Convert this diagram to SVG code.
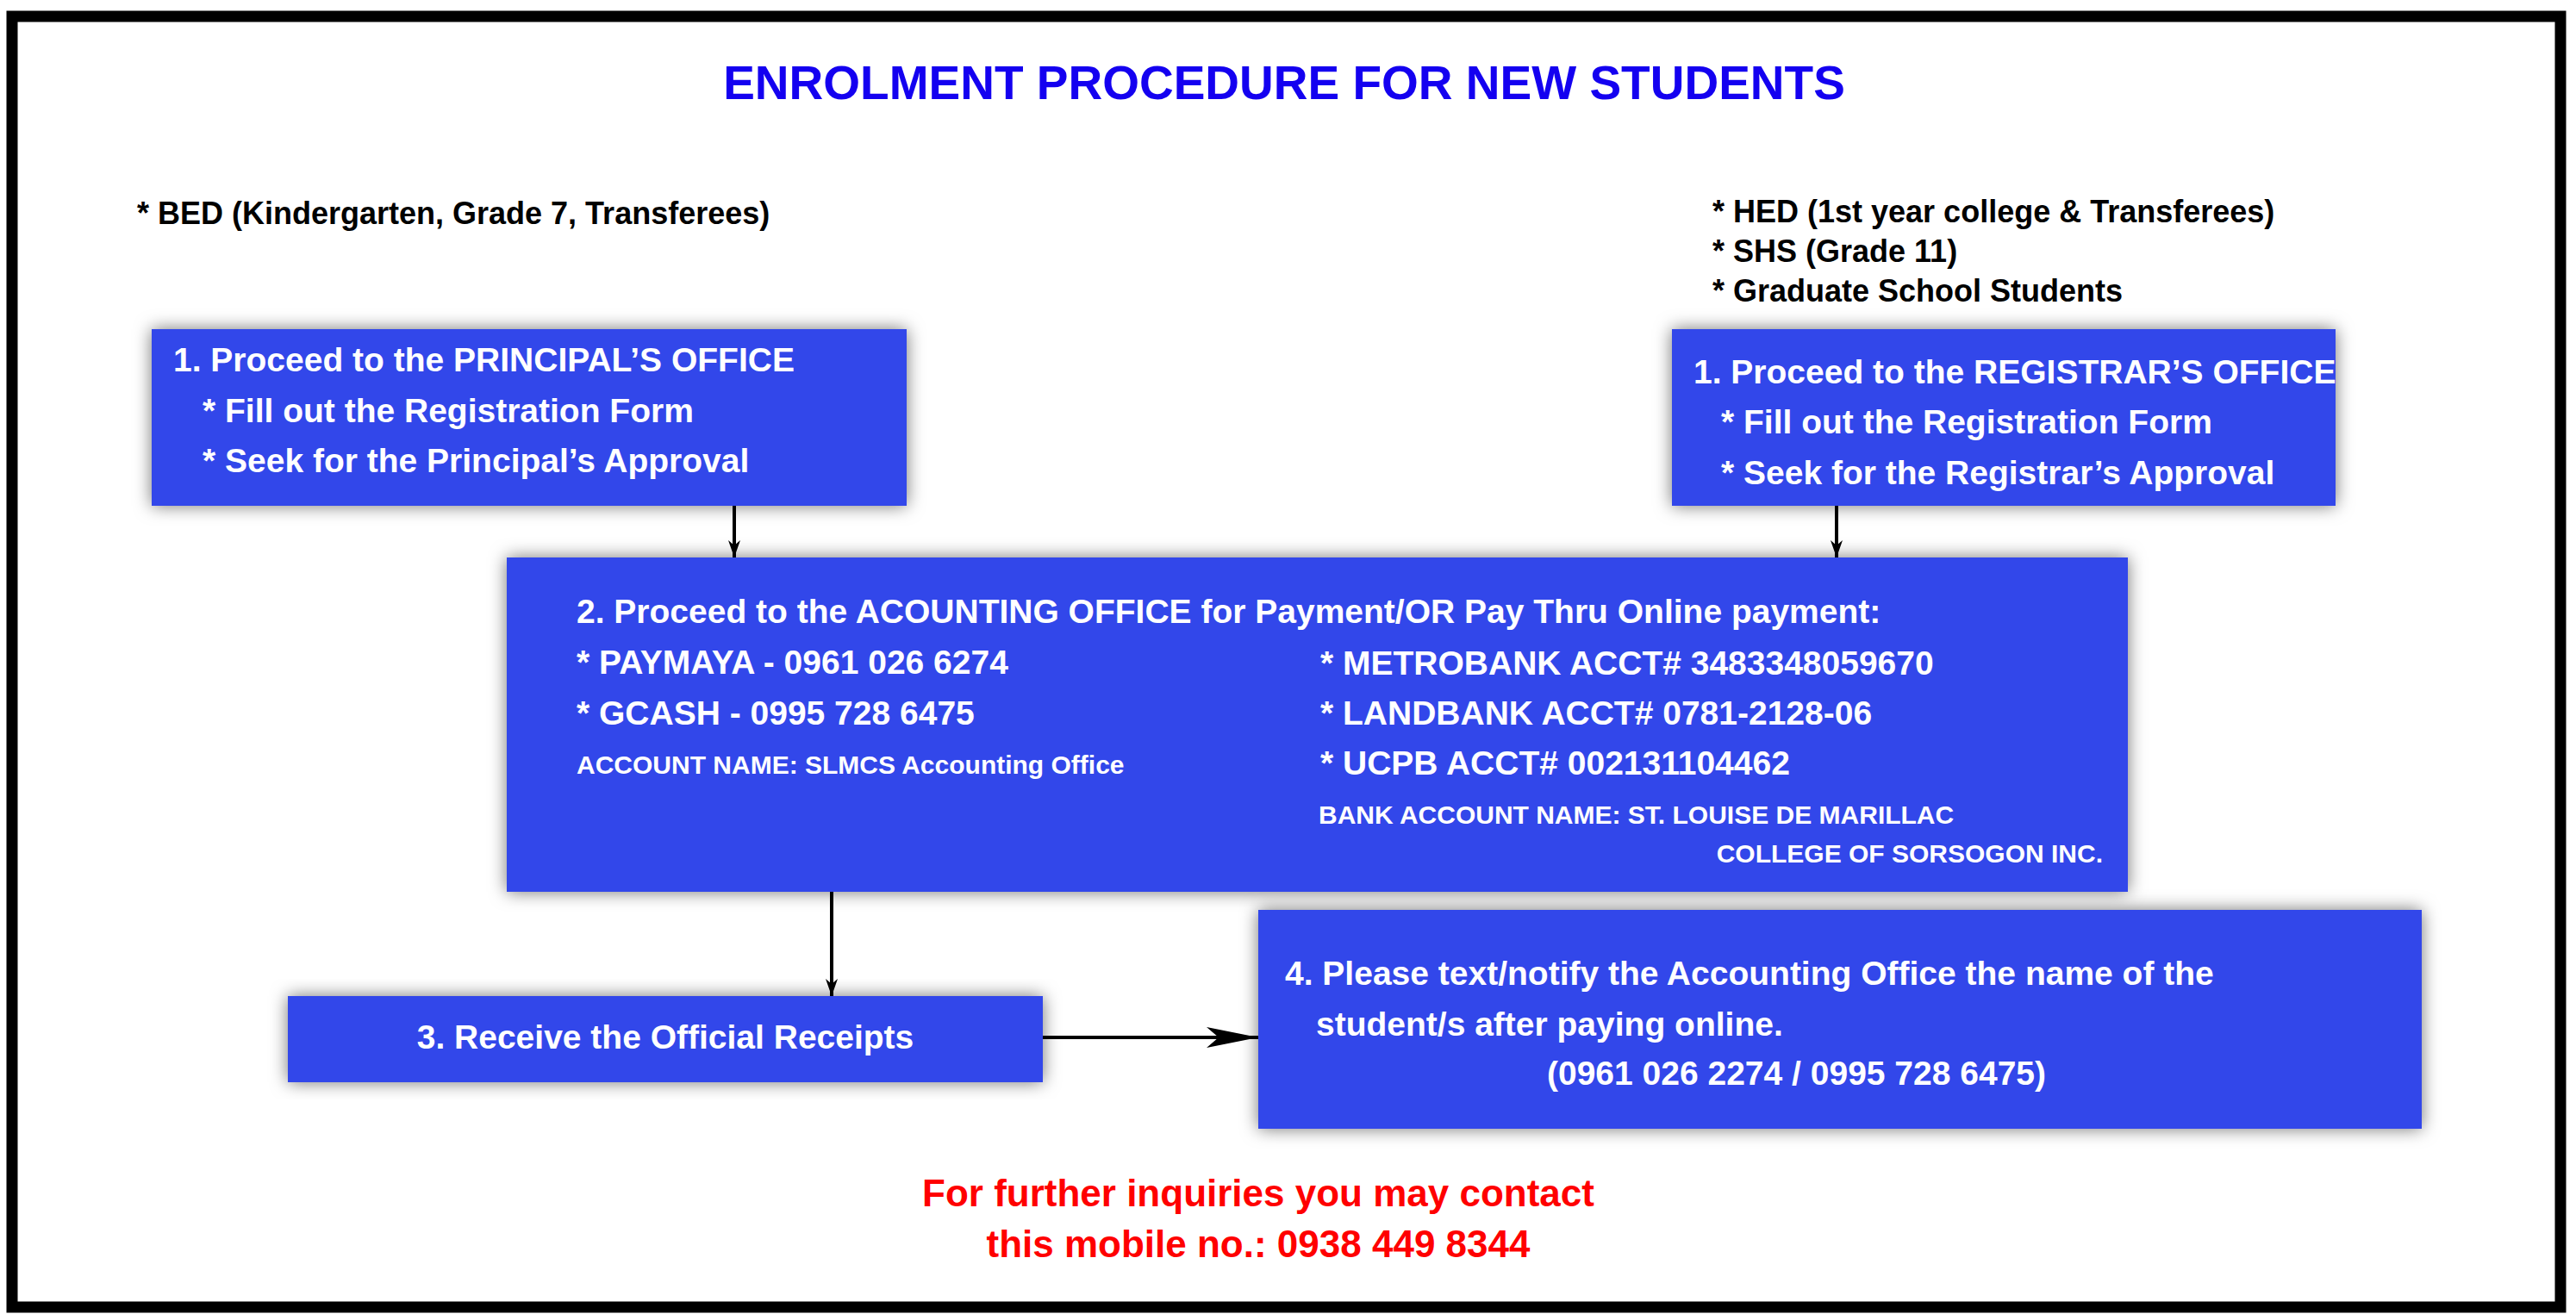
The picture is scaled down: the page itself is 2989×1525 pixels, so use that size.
<svg xmlns="http://www.w3.org/2000/svg" width="2989" height="1525" viewBox="0 0 2989 1525">
<style>
text{font-family:"Liberation Sans",Arial,sans-serif;font-weight:bold}
.box{fill:#3047EA;filter:url(#sh)}
.w{fill:#fff;font-size:39px}
.ws{fill:#fff;font-size:30px}
.k{fill:#000;font-size:36px}
.c{stroke:#000;stroke-width:4;fill:none;marker-end:url(#ar)}
</style>
<defs>
<filter id="sh" x="-10%" y="-20%" width="120%" height="140%"><feDropShadow dx="0" dy="0" stdDeviation="10" flood-color="#000" flood-opacity="0.55"/></filter>
<marker id="ar" viewBox="0 0 20 14" refX="20" refY="7" markerWidth="20" markerHeight="14" markerUnits="userSpaceOnUse" orient="auto"><path d="M0,0 L20,7 L0,14 L6,7 Z" fill="#000"/></marker>
<marker id="ar2" viewBox="0 0 60 24" refX="60" refY="12" markerWidth="60" markerHeight="24" markerUnits="userSpaceOnUse" orient="auto"><path d="M0,0 L60,12 L0,24 L14,12 Z" fill="#000"/></marker>
</defs>
<rect x="0" y="0" width="2989" height="1525" fill="#fff"/>
<rect x="14" y="19" width="2957" height="1498" fill="none" stroke="#000" stroke-width="13"/>
<text x="1490" y="115" text-anchor="middle" fill="#1400F0" font-size="55">ENROLMENT PROCEDURE FOR NEW STUDENTS</text>
<text class="k" x="159" y="260">* BED (Kindergarten, Grade 7, Transferees)</text>
<text class="k" x="1987" y="258">* HED (1st year college &amp; Transferees)</text>
<text class="k" x="1987" y="304">* SHS (Grade 11)</text>
<text class="k" x="1987" y="350">* Graduate School Students</text>
<g id="connectors">
<line class="c" x1="852" y1="587" x2="852" y2="647"/>
<line class="c" x1="2131" y1="587" x2="2131" y2="647"/>
<line class="c" x1="965" y1="1035" x2="965" y2="1156"/>
<line x1="1210" y1="1204" x2="1460" y2="1204" stroke="#000" stroke-width="4" marker-end="url(#ar2)"/>
</g>
<g id="n1">
<rect class="box" x="176" y="382" width="876" height="205"/>
<text class="w" x="201" y="431">1. Proceed to the PRINCIPAL’S OFFICE</text>
<text class="w" x="235" y="490">* Fill out the Registration Form</text>
<text class="w" x="235" y="548">* Seek for the Principal’s Approval</text>
</g>
<g id="n1b">
<rect class="box" x="1940" y="382" width="770" height="205"/>
<text class="w" x="1965" y="445">1. Proceed to the REGISTRAR’S OFFICE</text>
<text class="w" x="1997" y="503">* Fill out the Registration Form</text>
<text class="w" x="1997" y="562">* Seek for the Registrar’s Approval</text>
</g>
<g id="n2">
<rect class="box" x="588" y="647" width="1881" height="388"/>
<text class="w" x="669" y="723">2. Proceed to the ACOUNTING OFFICE for Payment/OR Pay Thru Online payment:</text>
<text class="w" x="669" y="782">* PAYMAYA - 0961 026 6274</text>
<text class="w" x="669" y="841">* GCASH - 0995 728 6475</text>
<text class="ws" x="669" y="898">ACCOUNT NAME: SLMCS Accounting Office</text>
<text class="w" x="1532" y="783">* METROBANK ACCT# 3483348059670</text>
<text class="w" x="1532" y="841">* LANDBANK ACCT# 0781-2128-06</text>
<text class="w" x="1532" y="899">* UCPB ACCT# 002131104462</text>
<text class="ws" x="1530" y="956">BANK ACCOUNT NAME: ST. LOUISE DE MARILLAC</text>
<text class="ws" x="2440" y="1001" text-anchor="end">COLLEGE OF SORSOGON INC.</text>
</g>
<g id="n3">
<rect class="box" x="334" y="1156" width="876" height="100"/>
<text class="w" x="772" y="1217" text-anchor="middle">3. Receive the Official Receipts</text>
</g>
<g id="n4">
<rect class="box" x="1460" y="1056" width="1350" height="254"/>
<text class="w" x="1491" y="1143">4. Please text/notify the Accounting Office the name of the</text>
<text class="w" x="1527" y="1202">student/s after paying online.</text>
<text class="w" x="1795" y="1259">(0961 026 2274 / 0995 728 6475)</text>
</g>
<text x="1460" y="1400" text-anchor="middle" fill="#FF0000" font-size="44">For further inquiries you may contact</text>
<text x="1460" y="1459" text-anchor="middle" fill="#FF0000" font-size="44">this mobile no.: 0938 449 8344</text>
</svg>
